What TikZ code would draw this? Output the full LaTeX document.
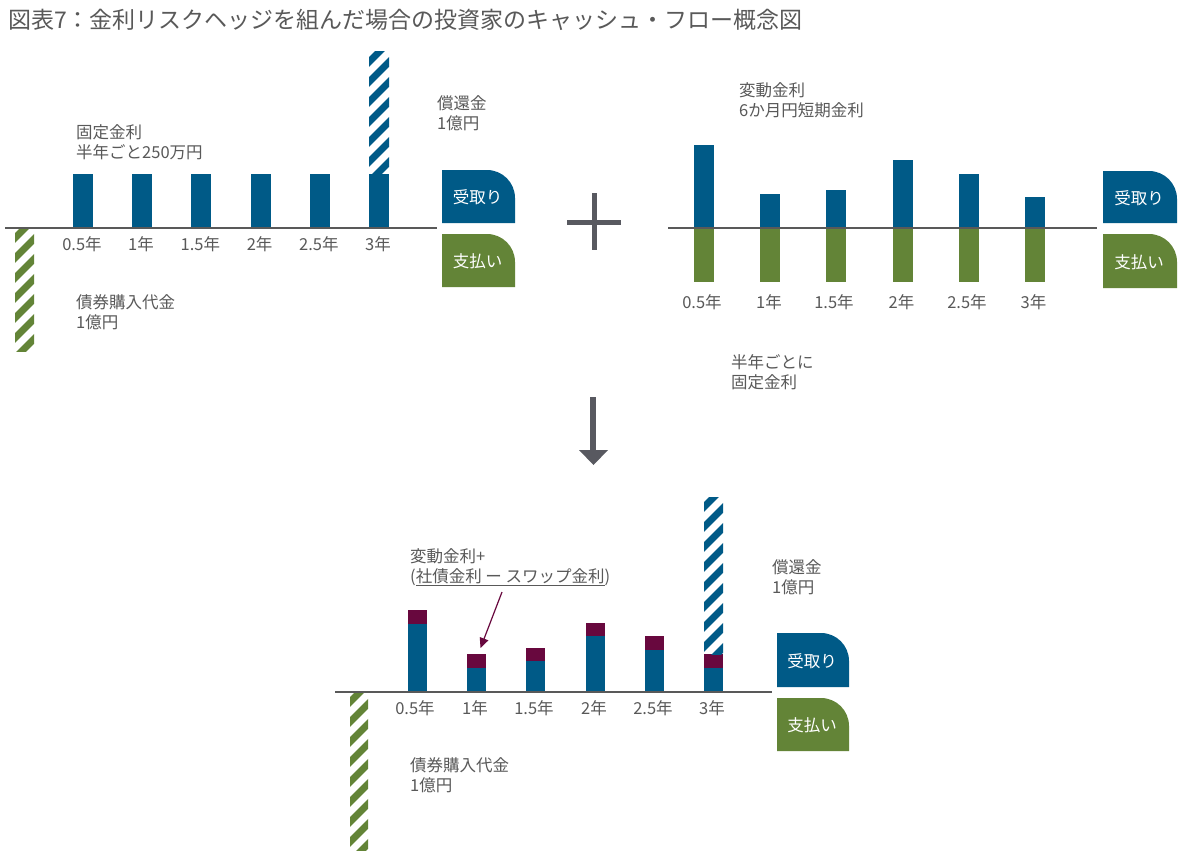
\documentclass[tikz,border=0pt]{standalone}
\usepackage{fontspec}
\setmainfont{Noto Sans CJK JP}
\usetikzlibrary{arrows.meta}
\definecolor{cfblue}{RGB}{0,90,135}
\definecolor{cfgreen}{RGB}{99,132,55}
\definecolor{cfpurple}{RGB}{104,8,62}
\definecolor{cfgray}{RGB}{89,89,89}
\definecolor{cfdark}{RGB}{88,89,96}
\tikzset{
  lbl/.style={font=\fontsize{16.5}{20}\selectfont, text=cfgray, inner sep=0pt, align=left, anchor=west},
  yr/.style={font=\fontsize{16.5}{20}\selectfont, text=cfgray, inner sep=0pt},
  axisline/.style={draw=cfgray, line width=1.3pt},
  boxtxt/.style={font=\fontsize{16.5}{20}\selectfont, text=white, inner sep=0pt},
  ttl/.style={font=\fontsize{23}{26}\selectfont, text=cfgray, inner sep=0pt, anchor=west},
  hatchline/.style={line width=7pt},
}
% x1 y1 x2 y2 colour count
\newcommand\cfhatch[6]{%
  \begin{scope}
    \clip (#1,#2) rectangle (#3,#4);
    \foreach \k in {0,...,#6}{
      \draw[hatchline, #5] ({#1-10},{#2+20*\k}) -- ++(40,-40);
    }
  \end{scope}}
% name x1 y1 x2 y2 colour text
\newcommand\cfbox[7]{%
  \fill[#6] (#2,#5) -- (#2,#3) -- ({#4-28},#3) arc[start angle=90,end angle=0,radius=28pt] -- (#4,#5) -- cycle;
  \node[boxtxt] (#1) at ({(#2+#4)/2-1},{(#3+#5)/2+1}) {#7};}
\begin{document}
\begin{tikzpicture}[x=1pt,y=-1pt]
\useasboundingbox (0,0) rectangle (1182,856);
\fill[white] (0,0) rectangle (1182,856);

% title
\node[ttl] (title) at (8,20) {図表7：金利リスクヘッジを組んだ場合の投資家のキャッシュ・フロー概念図};

% ---------- top-left chart ----------
\foreach \c in {83,142.2,201.4,260.6,319.8,379}{
  \fill[cfblue] ({\c-10},174) rectangle ({\c+10},228);
}
\cfhatch{369}{52}{389}{174}{cfblue}{9}
\cfhatch{15}{228}{34}{351}{cfgreen}{9}
\draw[axisline] (5,228) -- (437,228);
\foreach \c/\t [count=\i] in {82/0.5年,141/1年,200.4/1.5年,259.6/2年,318.8/2.5年,378/3年}{
  \node[yr] (tla\i) at (\c,244) {\t};
}
\node[lbl] (tlfix) at (76,142) {固定金利\\半年ごと250万円};
\node[lbl] (tlred) at (437,113) {償還金\\1億円};
\node[lbl] (tlbuy) at (76,312) {債券購入代金\\1億円};
\cfbox{tlrec}{442}{170}{515}{223}{cfblue}{受取り}
\cfbox{tlpay}{442}{234}{515}{287}{cfgreen}{支払い}

% plus sign
\draw[cfdark, line width=5pt] (567,222) -- (621,222);
\draw[cfdark, line width=5pt] (594,193) -- (594,250);

% ---------- top-right chart ----------
\foreach \c/\h in {704/145,770/194,836/190,902.5/160,968.5/174,1034.5/197}{
  \fill[cfblue] ({\c-10},\h) rectangle ({\c+10},228);
  \fill[cfgreen] ({\c-10},228) rectangle ({\c+10},282);
}
\draw[axisline] (668,228) -- (1097,228);
\foreach \c/\t [count=\i] in {702/0.5年,769/1年,834/1.5年,901.5/2年,967/2.5年,1033.5/3年}{
  \node[yr] (tra\i) at (\c,302) {\t};
}
\node[lbl] (trflt) at (739,100) {変動金利\\6か月円短期金利};
\node[lbl] (trfix) at (731,372) {半年ごとに\\固定金利};
\cfbox{trrec}{1103}{171}{1177}{223}{cfblue}{受取り}
\cfbox{trpay}{1103}{234}{1177}{288}{cfgreen}{支払い}

% big down arrow
\fill[cfdark] (590,397) rectangle (596,452);
\fill[cfdark] (579,450) -- (608,450) -- (593.5,465) -- cycle;

% ---------- bottom chart ----------
\foreach \c/\p/\b in {417.5/610/624,476.5/654/668,535.5/648/661,595.5/623/636,654.5/636/650,713.5/654/668}{
  \fill[cfpurple] ({\c-9.5},\p) rectangle ({\c+9.5},\b);
  \fill[cfblue] ({\c-9.5},\b) rectangle ({\c+9.5},692);
}
\cfhatch{704}{497}{723}{654}{cfblue}{10}
\cfhatch{350}{692}{368}{850}{cfgreen}{10}
\draw[axisline] (335,692) -- (772,692);
\foreach \c/\t [count=\i] in {415/0.5年,475/1年,534/1.5年,594/2年,653/2.5年,712/3年}{
  \node[yr] (ba\i) at (\c,708) {\t};
}
\node[lbl] (bflt) at (410,567) {変動金利+\\(\underline{社債金利 ー スワップ金利})};
\node[lbl] (bred) at (772,577) {償還金\\1億円};
\node[lbl] (bbuy) at (410,775) {債券購入代金\\1億円};
\cfbox{brec}{777}{633}{849}{687}{cfblue}{受取り}
\cfbox{bpay}{777}{698}{849}{751}{cfgreen}{支払い}

\coordinate (astart) at (502,592);
\coordinate (atip) at (480.5,648);
\draw[cfpurple, line width=1.2pt, -{Triangle[length=10pt,width=9pt]}] (astart) -- (atip);
\end{tikzpicture}
\end{document}
